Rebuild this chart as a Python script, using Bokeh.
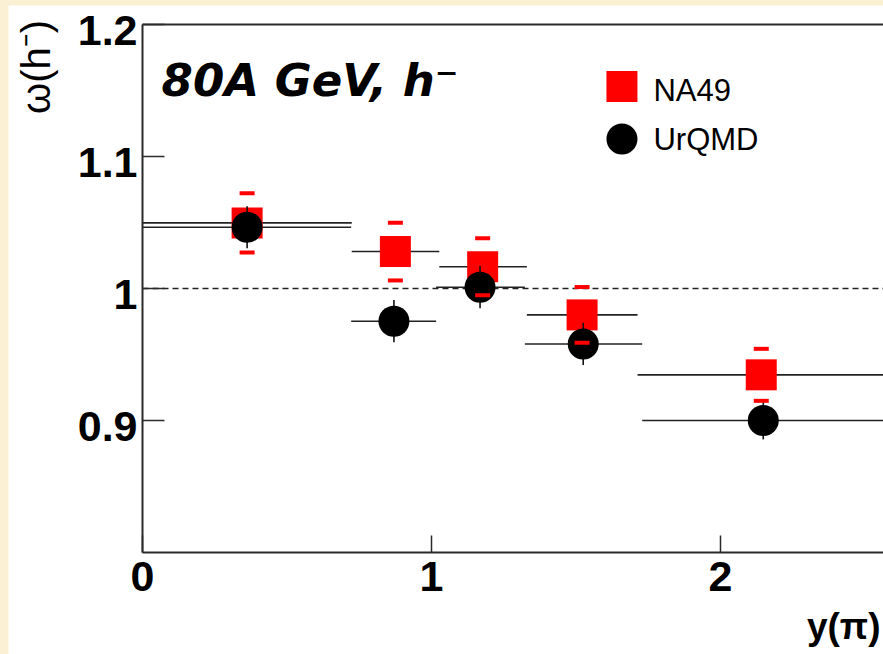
import math
from bokeh.plotting import figure
from bokeh.models import (Label, LabelSet, FixedTicker, LinearAxis, Range1d,
                          ColumnDataSource)
from bokeh.core.properties import value
from bokeh.layouts import column
from bokeh.embed import file_html
from bokeh.resources import INLINE

# ---- data ----
na49_x = [0.362, 0.875, 1.177, 1.521, 2.141]
na49_y = [1.0497, 1.0280, 1.0165, 0.9800, 0.9346]
na49_err = [0.0225, 0.0219, 0.0216, 0.0211, 0.0197]
na49_bin_lo = [0.0, 0.724, 1.027, 1.330, 1.713]
na49_bin_hi = [0.724, 1.027, 1.330, 1.713, 2.600]

urqmd_x = [0.362, 0.870, 1.168, 1.525, 2.148]
urqmd_y = [1.0464, 0.9752, 1.0010, 0.9580, 0.9000]
urqmd_err = [0.0160, 0.0160, 0.0160, 0.0160, 0.0143]
urqmd_bin_lo = [0.0, 0.722, 1.016, 1.323, 1.729]
urqmd_bin_hi = [0.722, 1.016, 1.323, 1.729, 2.600]

ref_level = 1.0
x_ticks = [0, 1, 2]
y_ticks = [0.9, 1.0, 1.1, 1.2]
y_tick_labels = ["0.9", "1", "1.1", "1.2"]
series_names = ["NA49", "UrQMD"]

# ---- geometry of the plotting box ----
X_MIN, X_MAX = 0.0, 2.564       # visible x extent of the box (cut at the right)
Y_MIN, Y_MAX = 0.8, 1.2
PX_PER_X = 289.0
PX_PER_Y = 1320.0
W, H = 875, 649
LEFT_PX, TOP_PX = 134, 19      # box offset inside the canvas

x_lo_view = X_MIN - LEFT_PX / PX_PER_X
y_hi_view = Y_MAX + TOP_PX / PX_PER_Y
y_lo_view = y_hi_view - H / PX_PER_Y

p = figure(width=W, height=H, margin=(5, 0, 0, 8), title=None,
           x_range=Range1d(x_lo_view, X_MAX), y_range=Range1d(y_lo_view, y_hi_view),
           output_backend="svg", toolbar_location=None,
           min_border_left=0, min_border_right=0,
           min_border_top=0, min_border_bottom=0)
p.background_fill_color = "white"
p.border_fill_color = "white"
p.outline_line_color = None
p.xgrid.visible = False
p.ygrid.visible = False

axis_col = "#2a2a2a"
for ax in (p.xaxis[0], p.yaxis[0]):
    ax.axis_line_color = axis_col
    ax.axis_line_width = 2
    ax.major_tick_line_color = axis_col
    ax.major_tick_line_width = 1.5
    ax.major_tick_out = 0
    ax.minor_tick_line_color = None
    ax.major_label_text_font = "Liberation Sans"
    ax.major_label_text_font_style = "bold"
    ax.major_label_text_font_size = "43px"
    ax.major_label_text_color = "black"

p.xaxis.fixed_location = Y_MIN
p.xaxis.bounds = (X_MIN, X_MAX)
p.xaxis.ticker = FixedTicker(ticks=x_ticks)
p.xaxis.major_tick_in = 17
p.xaxis.major_label_standoff = 9

p.yaxis.fixed_location = X_MIN
p.yaxis.bounds = (Y_MIN, Y_MAX)
p.yaxis.ticker = FixedTicker(ticks=y_ticks)
p.yaxis.major_tick_in = 22
p.yaxis.major_label_overrides = {t: "" for t in y_ticks}

top = LinearAxis(fixed_location=Y_MAX, bounds=(X_MIN, X_MAX),
                 ticker=FixedTicker(ticks=[]), axis_line_color=axis_col,
                 axis_line_width=2, major_tick_line_color=None,
                 minor_tick_line_color=None)
p.add_layout(top, "above")

# y tick labels (ROOT places them slightly below the tick)
ylab_src = ColumnDataSource(dict(
    x=[X_MIN - 5 / PX_PER_X] * len(y_ticks),
    y=[t - 6 / PX_PER_Y for t in y_ticks],
    text=y_tick_labels))
p.add_layout(LabelSet(x="x", y="y", text="text", source=ylab_src,
                      text_font=value("Liberation Sans"), text_font_style=value("bold"),
                      text_font_size=value("43px"), text_color=value("black"),
                      text_align="right", text_baseline="middle"))

# reference line at 1 (from the y axis to the right edge)
p.segment(x0=[X_MIN], y0=[ref_level], x1=[X_MAX], y1=[ref_level],
          line_color="#222222", line_width=1.5, line_dash="6 4")

# ---- horizontal (bin) error bars ----
p.segment(x0=na49_bin_lo, y0=na49_y, x1=na49_bin_hi, y1=na49_y,
          line_color="#222222", line_width=1.6)
p.segment(x0=urqmd_bin_lo, y0=urqmd_y, x1=urqmd_bin_hi, y1=urqmd_y,
          line_color="#222222", line_width=1.6)

# ---- NA49 squares ----
p.scatter(na49_x, na49_y, marker="square", size=31, fill_color="red",
          line_color=None)

# ---- UrQMD vertical errors and circles ----
u_lo = [y - e for y, e in zip(urqmd_y, urqmd_err)]
u_hi = [y + e for y, e in zip(urqmd_y, urqmd_err)]
p.segment(x0=urqmd_x, y0=u_lo, x1=urqmd_x, y1=u_hi, line_color="#111111",
          line_width=1.6)
p.scatter(urqmd_x, urqmd_y, marker="circle", size=31, fill_color="black",
          line_color=None)

# ---- NA49 error caps (red) ----
n_lo = [y - e for y, e in zip(na49_y, na49_err)]
n_hi = [y + e for y, e in zip(na49_y, na49_err)]
p.scatter(na49_x, n_hi, marker="dash", size=15, line_color="red", line_width=4)
p.scatter(na49_x, n_lo, marker="dash", size=15, line_color="red", line_width=4)

# ---- legend (manual, ROOT style) ----
leg_x = 1.659
leg_text_x = 1.768
p.scatter([leg_x], [1.153], marker="square", size=31, fill_color="red", line_color=None)
p.scatter([leg_x], [1.1133], marker="circle", size=31, fill_color="black", line_color=None)
for txt, yy in zip(series_names, [1.1502, 1.1128]):
    p.add_layout(Label(x=leg_text_x, y=yy, text=txt, text_font="Liberation Sans",
                       text_font_size="31px", text_color="black",
                       text_baseline="alphabetic"))

# ---- annotation text ----
p.add_layout(Label(x=0.066, y=1.1576, text="80A GeV, h\u207b", text_font="DejaVu Sans",
                   text_font_style="bold italic", text_font_size="45px",
                   text_color="black", text_baseline="alphabetic"))

# ---- axis titles (ROOT style, at the axis ends) ----
p.add_layout(Label(x=-0.370, y=1.2035, text="\u03c9(h\u207b)", angle=math.pi / 2,
                   text_font="Liberation Sans", text_font_size="40px",
                   text_color="black", text_align="right",
                   text_baseline="middle"))
p.add_layout(Label(x=2.5536, y=0.744, text="y(\u03c0)", text_font="Liberation Sans",
                   text_font_style="bold", text_font_size="37px",
                   text_color="black", text_align="right",
                   text_baseline="alphabetic"))

layout = column(p, styles={"background-color": "#FCF0D4"})
open("out.html", "w").write(file_html(layout, INLINE))
